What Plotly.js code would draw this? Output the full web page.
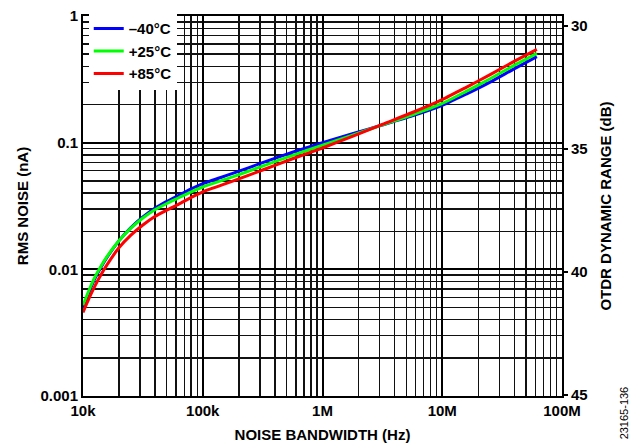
<!DOCTYPE html>
<html>
<head>
<meta charset="utf-8">
<script src="https://cdn.plot.ly/plotly-3.0.1.min.js"></script>
<style>
html,body{margin:0;padding:0;background:#fff;}
#chart{width:639px;height:445px;}
</style>
</head>
<body>
<div id="chart"></div>
<script>
// Noise bandwidth (Hz)
var bandwidth = [10000, 11220, 12590, 14130, 15850, 19950, 25120, 31620, 39810, 50120, 63100, 79430,
  100000, 177800, 316200, 562300, 1000000, 1778000, 3162000, 5623000, 10000000, 15850000, 25120000, 39810000, 61660000];
// RMS noise (nA) per temperature
var noiseM40 = [0.00497, 0.00659, 0.00847, 0.01038, 0.01242, 0.01679, 0.02133, 0.02588, 0.03034, 0.03436, 0.03846, 0.04295,
  0.04742, 0.05715, 0.06950, 0.08395, 0.09977, 0.1175, 0.1380, 0.1626, 0.1968, 0.2415, 0.3006, 0.3828, 0.4775];
var noiseP25 = [0.00520, 0.00684, 0.00871, 0.01059, 0.01259, 0.01679, 0.02113, 0.02541, 0.02951, 0.03311, 0.03673, 0.04074,
  0.04467, 0.05370, 0.06531, 0.07943, 0.09550, 0.1148, 0.1380, 0.1660, 0.2042, 0.2541, 0.3199, 0.4074, 0.5070];
var noiseP85 = [0.00457, 0.00589, 0.00741, 0.00906, 0.01084, 0.01479, 0.01862, 0.02239, 0.02612, 0.02938, 0.03273, 0.03681,
  0.04093, 0.04966, 0.06081, 0.07464, 0.09078, 0.1122, 0.1396, 0.1730, 0.2188, 0.2735, 0.3443, 0.4385, 0.5458];

var seriesNames = ['\u201340\u00b0C', '+25\u00b0C', '+85\u00b0C'];
var seriesColors = ['#0000ff', '#00ff00', '#ff0000'];

var xTickVals = [1e4, 1e5, 1e6, 1e7, 1e8];
var xTickText = ['10k', '100k', '1M', '10M', '100M'];
var yTickVals = [0.001, 0.01, 0.1, 1];
var yTickText = ['0.001', '0.01', '0.1', '1'];
var y2TickVals = [30, 35, 40, 45];

function minorVals(startExp, endExp) {
  var out = [];
  for (var e = startExp; e < endExp; e++) {
    for (var m = 2; m <= 9; m++) out.push(m * Math.pow(10, e));
  }
  return out;
}

var F = {family: 'Liberation Sans, Arial, sans-serif', size: 15, color: '#000', weight: 'bold'};

var ys = [noiseM40, noiseP25, noiseP85];
var traces = ys.map(function (y, i) {
  return {
    x: bandwidth, y: y, type: 'scatter', mode: 'lines',
    name: seriesNames[i],
    line: {color: seriesColors[i], width: 3, shape: 'spline', smoothing: 0.6}
  };
});
// empty helper trace so the right-hand axis is drawn
traces.push({x: [null], y: [null], yaxis: 'y2', type: 'scatter', mode: 'lines', showlegend: false, hoverinfo: 'skip'});

var layout = {
  width: 639, height: 445,
  margin: {l: 83, r: 77, t: 13, b: 49},
  paper_bgcolor: '#fff', plot_bgcolor: '#fff',
  showlegend: true,
  legend: {
    x: 0.012, y: 1.01, xanchor: 'left', yanchor: 'top',
    bgcolor: '#fff', borderwidth: 0, font: F,
    tracegroupgap: 0, itemwidth: 30
  },
  xaxis: {
    type: 'log', range: [4, 8],
    tickmode: 'array', tickvals: xTickVals, ticktext: xTickText,
    ticks: '', tickfont: F,
    showgrid: true, gridcolor: '#000', gridwidth: 2,
    minor: {tickmode: 'array', tickvals: minorVals(4, 8), showgrid: true, gridcolor: '#111', gridwidth: 1.4, ticks: ''},
    showline: true, linecolor: '#000', linewidth: 2, mirror: true,
    zeroline: false,
    title: {text: 'NOISE BANDWIDTH (Hz)', font: F, standoff: 11}
  },
  yaxis: {
    type: 'log', range: [-3, 0],
    tickmode: 'array', tickvals: yTickVals, ticktext: yTickText,
    ticks: '', tickfont: F,
    showgrid: true, gridcolor: '#000', gridwidth: 2,
    minor: {tickmode: 'array', tickvals: minorVals(-3, 0), showgrid: true, gridcolor: '#111', gridwidth: 1.4, ticks: ''},
    showline: true, linecolor: '#000', linewidth: 2, mirror: true,
    zeroline: false,
    title: {text: 'RMS NOISE (nA)', font: F, standoff: 8}
  },
  yaxis2: {
    overlaying: 'y', side: 'right', anchor: 'x',
    range: [45.04, 29.6], autorange: false, tickmode: 'array', tickvals: y2TickVals,
    ticks: 'outside', ticklen: 5, tickwidth: 2, tickcolor: '#000',
    tickfont: F, showgrid: false, zeroline: false, showline: false,
    title: {text: 'OTDR DYNAMIC RANGE (dB)', font: F, standoff: 13}
  },
  annotations: [{
    text: '23165-136', xref: 'paper', yref: 'paper', x: 1.13, y: -0.12,
    xanchor: 'center', yanchor: 'bottom', textangle: -90, showarrow: false,
    font: {family: 'Liberation Sans, Arial, sans-serif', size: 11, color: '#000'}
  }]
};

Plotly.newPlot('chart', traces, layout, {displayModeBar: false, staticPlot: true});
</script>
</body>
</html>
